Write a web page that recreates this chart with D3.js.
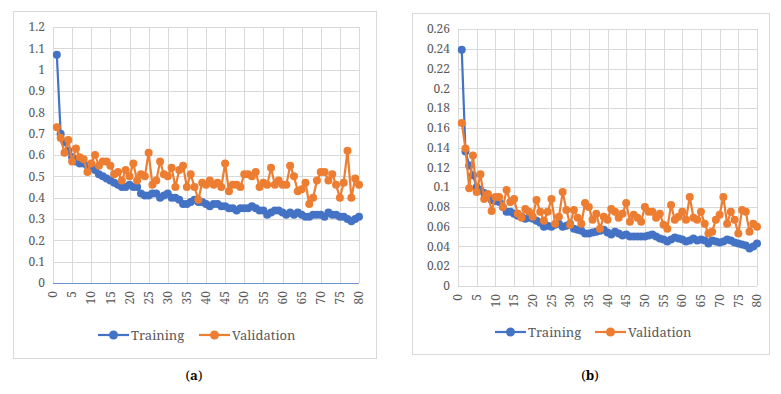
<!DOCTYPE html>
<html>
<head>
<meta charset="utf-8">
<script src="https://cdn.jsdelivr.net/npm/d3@7"></script>
<style>
  body { margin: 0; background: #fff; }
  svg { display: block; }
</style>
</head>
<body>
<script>
// epochs 1..80
var epochs = d3.range(1, 81)
var xTicks = d3.range(0, 81, 5)

// (a) loss values
var trainA = [1.07,0.70,0.66,0.62,0.59,0.57,0.56,0.56,0.55,0.55,
  0.53,0.51,0.50,0.49,0.48,0.47,0.46,0.45,0.45,0.46,
  0.45,0.45,0.42,0.41,0.41,0.42,0.42,0.40,0.41,0.42,
  0.40,0.40,0.39,0.37,0.37,0.38,0.39,0.38,0.38,0.37,
  0.36,0.37,0.37,0.36,0.36,0.35,0.35,0.34,0.35,0.35,
  0.35,0.36,0.35,0.34,0.34,0.32,0.33,0.34,0.34,0.33,
  0.32,0.33,0.32,0.33,0.32,0.31,0.31,0.32,0.32,0.32,
  0.31,0.33,0.32,0.32,0.31,0.31,0.30,0.29,0.30,0.31]
var validA = [0.73,0.68,0.61,0.67,0.57,0.63,0.59,0.58,0.52,0.56,
  0.60,0.55,0.57,0.57,0.55,0.51,0.52,0.48,0.53,0.50,
  0.56,0.48,0.51,0.50,0.61,0.46,0.48,0.57,0.51,0.50,
  0.54,0.45,0.53,0.55,0.45,0.51,0.45,0.39,0.47,0.46,
  0.48,0.46,0.47,0.45,0.56,0.43,0.46,0.46,0.45,0.51,
  0.51,0.50,0.52,0.45,0.47,0.46,0.54,0.46,0.48,0.46,
  0.46,0.55,0.50,0.43,0.44,0.47,0.37,0.40,0.48,0.52,
  0.52,0.48,0.51,0.46,0.40,0.47,0.62,0.40,0.49,0.46]
var yTicksA = d3.range(0, 13).map(function(d) { return d / 10 })

// (b)
var trainB = [0.239,0.136,0.122,0.112,0.100,0.097,0.094,0.090,0.087,0.086,
  0.085,0.080,0.075,0.075,0.073,0.071,0.070,0.068,0.069,0.068,
  0.066,0.064,0.060,0.061,0.060,0.062,0.063,0.060,0.061,0.063,
  0.058,0.057,0.056,0.053,0.053,0.054,0.055,0.056,0.057,0.054,
  0.052,0.055,0.053,0.051,0.052,0.050,0.050,0.050,0.050,0.050,
  0.051,0.052,0.050,0.048,0.047,0.045,0.047,0.049,0.048,0.047,
  0.045,0.046,0.048,0.046,0.047,0.046,0.043,0.046,0.045,0.044,
  0.045,0.047,0.046,0.044,0.043,0.042,0.041,0.038,0.040,0.043]
var validB = [0.165,0.139,0.099,0.132,0.095,0.113,0.088,0.093,0.076,0.090,
  0.090,0.080,0.097,0.085,0.088,0.073,0.069,0.078,0.075,0.070,
  0.087,0.075,0.066,0.075,0.088,0.063,0.070,0.095,0.077,0.062,
  0.077,0.069,0.063,0.084,0.080,0.067,0.073,0.058,0.070,0.067,
  0.078,0.075,0.069,0.073,0.084,0.065,0.072,0.069,0.065,0.080,
  0.075,0.075,0.069,0.073,0.062,0.058,0.082,0.067,0.070,0.075,
  0.067,0.090,0.069,0.067,0.075,0.063,0.053,0.055,0.067,0.072,
  0.090,0.063,0.075,0.067,0.053,0.077,0.075,0.055,0.063,0.060]
var yTicksB = d3.range(0, 14).map(function(d) { return d * 0.02 })

var seriesNames = ['Training', 'Validation']
var colors = ['#4472C4', '#ED7D31']
var serif = '"Noto Serif", "Liberation Serif", serif'

var svg = d3.select('body').append('svg').attr('width', 781).attr('height', 394)
  .attr('font-family', serif)

function drawChart(cfg) {
  var g = svg.append('g')
  g.append('rect').attr('x', cfg.box[0] + 0.5).attr('y', cfg.box[1] + 0.5)
    .attr('width', cfg.box[2] - cfg.box[0]).attr('height', cfg.box[3] - cfg.box[1])
    .attr('fill', '#fff').attr('stroke', '#d9d9d9')

  var x = d3.scaleLinear().domain([0, 80]).range([cfg.left, cfg.right])
  var y = d3.scaleLinear().domain([0, d3.max(cfg.yTicks)]).range([cfg.bottom, cfg.top])

  // grid
  g.append('g').selectAll('line.h').data(cfg.yTicks).enter().append('line')
    .attr('x1', cfg.left).attr('x2', cfg.right)
    .attr('y1', function(d) { return Math.round(y(d)) + 0.5 })
    .attr('y2', function(d) { return Math.round(y(d)) + 0.5 })
    .attr('stroke', '#d9d9d9').attr('stroke-width', 1)
  g.append('g').selectAll('line.v').data(xTicks).enter().append('line')
    .attr('y1', cfg.top).attr('y2', cfg.bottom)
    .attr('x1', function(d) { return Math.round(x(d)) + 0.5 })
    .attr('x2', function(d) { return Math.round(x(d)) + 0.5 })
    .attr('stroke', '#d9d9d9').attr('stroke-width', 1)

  // axis line at 0
  g.append('line').attr('x1', cfg.left).attr('x2', cfg.right)
    .attr('y1', Math.round(y(0)) + 0.5).attr('y2', Math.round(y(0)) + 0.5)
    .attr('stroke', cfg.axisColor).attr('stroke-width', 1)

  // y tick labels
  g.append('g').selectAll('text').data(cfg.yTicks).enter().append('text')
    .attr('x', cfg.left - 8).attr('y', function(d) { return y(d) })
    .attr('dy', '0.35em').attr('text-anchor', 'end').attr('font-size', 12)
    .attr('fill', '#595959')
    .text(function(d) { return +d.toFixed(2) })

  // x tick labels rotated
  g.append('g').selectAll('text').data(xTicks).enter().append('text')
    .attr('transform', function(d) { return `translate(${x(d)},${cfg.bottom + 8}) rotate(-90)` })
    .attr('dy', '0.35em').attr('text-anchor', 'end').attr('font-size', 12)
    .attr('fill', '#595959')
    .text(function(d) { return d })

  // series
  var series = [cfg.train, cfg.valid]
  series.forEach(function(vals, si) {
    var pts = vals.map(function(v, i) { return {x: epochs[i], y: v} })
    var line = d3.line().x(function(d) { return x(d.x) }).y(function(d) { return y(d.y) })
    g.append('path').datum(pts).attr('d', line)
      .attr('fill', 'none').attr('stroke', colors[si]).attr('stroke-width', 2.2)
      .attr('stroke-linejoin', 'round')
    g.append('g').selectAll('circle').data(pts).enter().append('circle')
      .attr('cx', function(d) { return x(d.x) }).attr('cy', function(d) { return y(d.y) })
      .attr('r', 4).attr('fill', colors[si])
  })

  // legend
  cfg.legendX.forEach(function(lx, si) {
    var lg = g.append('g').attr('transform', `translate(${lx},${cfg.legendY})`)
    lg.append('line').attr('x1', 0).attr('x2', 31).attr('y1', 0).attr('y2', 0)
      .attr('stroke', colors[si]).attr('stroke-width', 2.2)
    lg.append('circle').attr('cx', 15.5).attr('cy', 0).attr('r', 4.5).attr('fill', colors[si])
    lg.append('text').attr('x', 33).attr('y', 0).attr('dy', '0.35em')
      .attr('font-size', 13).attr('fill', '#595959').text(seriesNames[si])
  })

  // caption
  svg.append('text').attr('x', cfg.captionX).attr('y', 380).attr('text-anchor', 'middle')
    .attr('font-size', 13).attr('fill', '#000')
    .html('(<tspan font-weight="bold">' + cfg.caption + '</tspan>)')
}

drawChart({
  box: [13, 11, 376, 358], left: 53, right: 359, top: 27, bottom: 283,
  yTicks: yTicksA, train: trainA, valid: validA, axisColor: '#6f94d6',
  legendX: [98, 199], legendY: 335, captionX: 194, caption: 'a'
})
drawChart({
  box: [412, 13, 769, 354], left: 458, right: 757, top: 29, bottom: 286,
  yTicks: yTicksB, train: trainB, valid: validB, axisColor: '#d9d9d9',
  legendX: [495, 595], legendY: 332, captionX: 590, caption: 'b'
})
</script>
</body>
</html>
